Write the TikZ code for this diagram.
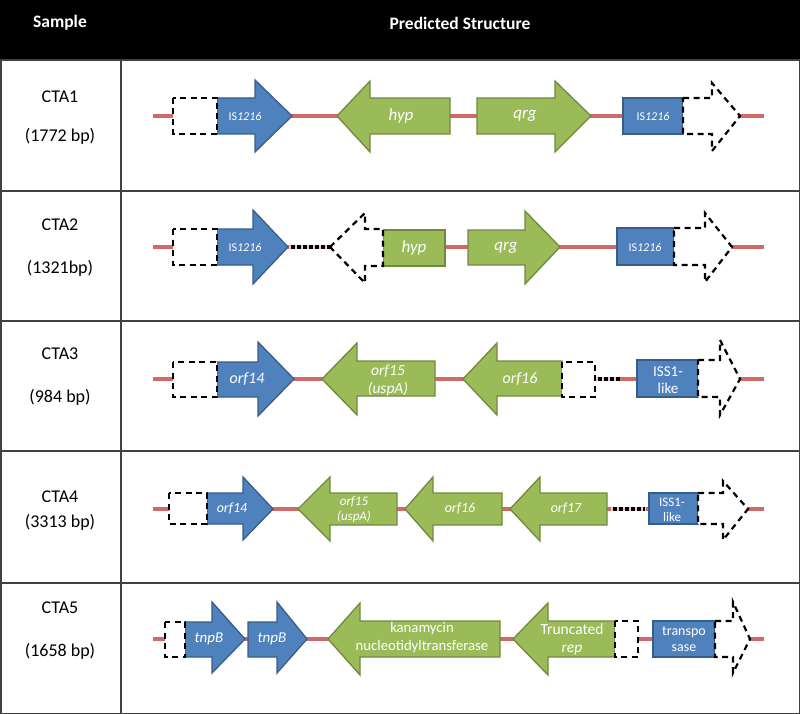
\documentclass[tikz,border=0pt]{standalone}
\usepackage{fontspec}
\setmainfont{Carlito}
\definecolor{bfill}{HTML}{4F81BD}
\definecolor{bline}{HTML}{385D8A}
\definecolor{gfill}{HTML}{9BBB59}
\definecolor{gline}{HTML}{71893F}
\definecolor{redline}{HTML}{CF6A68}
\definecolor{gridline}{HTML}{404040}
\tikzset{
  bluegene/.style={fill=bfill,draw=bline,line width=1.3pt,line join=miter},
  greengene/.style={fill=gfill,draw=gline,line width=1.3pt,line join=miter},
  ghost/.style={fill=white,draw=black,line width=2.2pt,dash pattern=on 6pt off 4.5pt},
  backbone/.style={draw=redline,line width=3.5pt},
  gapbase/.style={draw=redline!35,line width=3.6pt},
  gap/.style={draw=black,line width=3.5pt,dash pattern=on 3.5pt off 2.5pt},
  lbl/.style={text=white,font=\fontsize{17}{18}\selectfont\itshape,align=center,inner sep=0pt},
  lbls/.style={text=white,font=\fontsize{12}{13}\selectfont,align=center,inner sep=0pt},
  samp/.style={font=\fontsize{18}{19}\selectfont,inner sep=0pt},
  hdr/.style={text=white,font=\fontsize{17.5}{18}\selectfont\bfseries,inner sep=0pt},
  grid/.style={draw=gridline,line width=1.5pt}
}
\begin{document}
\begin{tikzpicture}[x=1pt,y=-1pt]
\useasboundingbox (0,0) rectangle (800,714);
% table
\fill[black] (0,0) rectangle (800,60);
\node[hdr] (h1) at (60,23) {Sample};
\node[hdr] (h2) at (460,23) {Predicted Structure};
\draw[grid] (0.75,60) rectangle (799.25,713.25);
\draw[grid] (121,60) -- (121,713);
\foreach \yy in {191,321,451,583} \draw[grid] (0,\yy) -- (800,\yy);
% sample column
\node[samp] (s1a) at (60,97) {CTA1};
\node[samp] (s1b) at (60,136) {(1772 bp)};
\node[samp] (s2a) at (60,225) {CTA2};
\node[samp] (s2b) at (60,268) {(1321bp)};
\node[samp] (s3a) at (60,354) {CTA3};
\node[samp] (s3b) at (60,397) {(984 bp)};
\node[samp] (s4a) at (60,497) {CTA4};
\node[samp] (s4b) at (60,522) {(3313 bp)};
\node[samp] (s5a) at (60,608) {CTA5};
\node[samp] (s5b) at (60,651) {(1658 bp)};

% ---------- Row 1 ----------
\draw[backbone] (153,116) -- (764,116);
\draw[bluegene] (217,98) -- (255,98) -- (255,80) -- (292,116) -- (255,152) -- (255,134) -- (217,134) -- cycle;
\draw[ghost] (173,98) rectangle (217,134);
\node[lbls] (r1a) at (245,116) {IS\textit{1216}};
\draw[greengene] (337,116) -- (370,81) -- (370,98) -- (450,98) -- (450,134) -- (370,134) -- (370,152) -- cycle;
\node[lbl] (r1b) at (401,116) {hyp};
\draw[greengene] (477,98) -- (555,98) -- (555,81) -- (591,116) -- (555,152) -- (555,134) -- (477,134) -- cycle;
\node[lbl] (r1c) at (525,116) {qrg};
\draw[bluegene] (623,98) rectangle (683,134);
\node[lbls] (r1d) at (653,116) {IS\textit{1216}};
\draw[ghost] (683,98) -- (712,98) -- (712,83) -- (740,116) -- (712,151) -- (712,134) -- (683,134) -- cycle;

% ---------- Row 2 ----------
\draw[backbone] (153,247) -- (764,247);
\draw[bluegene] (217,229) -- (253,229) -- (253,210) -- (288,247) -- (253,284) -- (253,265) -- (217,265) -- cycle;
\draw[ghost] (173,229) rectangle (217,265);
\node[lbls] (r2a) at (245,247) {IS\textit{1216}};
\draw[gapbase] (289,247) -- (330,247);
\draw[gap] (291,247) -- (330,247);
\draw[greengene] (383,230) rectangle (445,266);
\node[lbl] (r2b) at (414,248) {hyp};
\draw[ghost] (330,247) -- (365,213) -- (365,229) -- (383,229) -- (383,266) -- (365,266) -- (365,283) -- cycle;
\draw[greengene] (468,230) -- (525,230) -- (525,211) -- (560,247) -- (525,284) -- (525,265) -- (468,265) -- cycle;
\node[lbl] (r2c) at (506,248) {qrg};
\draw[bluegene] (617,228) rectangle (674,265);
\node[lbls] (r2d) at (645,247) {IS\textit{1216}};
\draw[ghost] (674,228) -- (705,228) -- (705,213) -- (732,247) -- (705,282) -- (705,265) -- (674,265) -- cycle;

% ---------- Row 3 ----------
\draw[backbone] (153,379) -- (764,379);
\draw[bluegene] (217,362) -- (258,362) -- (258,342) -- (294,379) -- (258,416) -- (258,397) -- (217,397) -- cycle;
\draw[ghost] (173,362) rectangle (217,397);
\node[lbl,font=\fontsize{16}{17}\selectfont\itshape] (r3a) at (247,379) {orf14};
\draw[greengene] (322,379) -- (357,343) -- (357,361) -- (435,361) -- (435,396) -- (357,396) -- (357,415) -- cycle;
\node[lbl,font=\fontsize{15.5}{18}\selectfont\itshape] (r3b) at (388,380) {orf15\\(uspA)};
\draw[greengene] (463,379) -- (497,343) -- (497,361) -- (562,361) -- (562,396) -- (497,396) -- (497,415) -- cycle;
\node[lbl,font=\fontsize{16}{17}\selectfont\itshape] (r3c) at (520,379) {orf16};
\draw[gapbase] (596,379) -- (620,379);
\draw[gap] (598,379) -- (620,379);
\draw[ghost] (562,362) rectangle (595,397);
\draw[bluegene] (637,360) rectangle (698,397);
\node[lbls,font=\fontsize{15}{16.5}\selectfont] (r3d) at (668,380) {ISS1-\\like};
\draw[ghost] (698,360) -- (720,360) -- (720,340) -- (740,379) -- (720,415) -- (720,397) -- (698,397) -- cycle;

% ---------- Row 4 ----------
\draw[backbone] (153,509) -- (764,509);
\draw[bluegene] (207,493) -- (243,493) -- (243,477) -- (273,509) -- (243,540) -- (243,524) -- (207,524) -- cycle;
\draw[ghost] (169,493) rectangle (207,524);
\node[lbl,font=\fontsize{14}{15}\selectfont\itshape] (r4a) at (232,509) {orf14};
\draw[greengene] (298,509) -- (330,477) -- (330,493) -- (397,493) -- (397,525) -- (330,525) -- (330,541) -- cycle;
\node[lbls,font=\fontsize{13}{15}\selectfont\itshape] (r4b) at (354,510) {orf15\\(uspA)};
\draw[greengene] (405,509) -- (433,477) -- (433,493) -- (502,493) -- (502,525) -- (433,525) -- (433,541) -- cycle;
\node[lbl,font=\fontsize{14}{15}\selectfont\itshape] (r4c) at (460,509) {orf16};
\draw[greengene] (510,509) -- (540,477) -- (540,493) -- (607,493) -- (607,525) -- (540,525) -- (540,541) -- cycle;
\node[lbl,font=\fontsize{14}{15}\selectfont\itshape] (r4d) at (566,509) {orf17};
\draw[gapbase] (611,509) -- (646,509);
\draw[gap] (613,509) -- (645,509);
\draw[bluegene] (649,493) rectangle (698,524);
\node[lbls,font=\fontsize{13}{15}\selectfont] (r4e) at (672,510) {ISS1-\\like};
\draw[ghost] (698,493) -- (723,493) -- (723,481) -- (748,509) -- (723,540) -- (723,524) -- (698,524) -- cycle;

% ---------- Row 5 ----------
\draw[backbone] (153,639) -- (764,639);
\draw[bluegene] (185,622) -- (212,622) -- (212,602) -- (245,639) -- (212,673) -- (212,657) -- (185,657) -- cycle;
\draw[ghost] (165,622) rectangle (185,657);
\node[lbl,font=\fontsize{15}{16}\selectfont\itshape] (r5a) at (209,639) {tnpB};
\draw[bluegene] (248,622) -- (277,622) -- (277,602) -- (307,639) -- (277,673) -- (277,657) -- (248,657) -- cycle;
\node[lbl,font=\fontsize{15}{16}\selectfont\itshape] (r5b) at (272,639) {tnpB};
\draw[greengene] (328,639) -- (360,603) -- (360,621) -- (500,621) -- (500,657) -- (360,657) -- (360,675) -- cycle;
\node[lbls,font=\fontsize{14.7}{18}\selectfont] (r5c) at (422,638) {kanamycin\\nucleotidyltransferase};
\draw[greengene] (513,639) -- (548,603) -- (548,621) -- (615,621) -- (615,657) -- (548,657) -- (548,675) -- cycle;
\node[lbls,font=\fontsize{15.5}{18}\selectfont] (r5d) at (572,639) {Truncated\\\textit{rep}};
\draw[ghost] (615,621) rectangle (638,657);
\draw[bluegene] (653,621) rectangle (715,657);
\node[lbls,font=\fontsize{14}{16}\selectfont] (r5e) at (684,639) {transpo\\sase};
\draw[ghost] (715,621) -- (733,621) -- (733,602) -- (750,639) -- (733,673) -- (733,657) -- (715,657) -- cycle;
\end{tikzpicture}
\end{document}
